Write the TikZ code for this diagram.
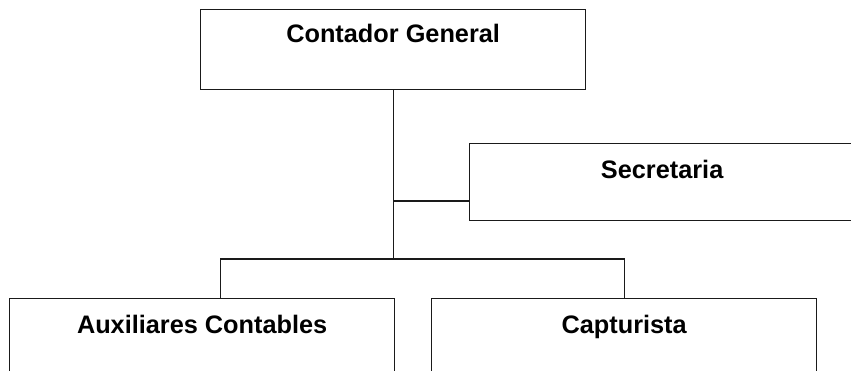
\documentclass[tikz,border=0pt]{standalone}
\usepackage{fontspec}
\setmainfont{Liberation Sans}
\usepackage{xcolor}
\definecolor{linea}{HTML}{1a1a1a}

\begin{document}
\begin{tikzpicture}[
            x=1pt,
            y=-1pt,
            line cap=rect,
            caja/.style={
                draw=linea,
                line width=1.3pt,
                inner sep=0pt,
                minimum width=385,
                anchor=north west,
                font=\bfseries\fontsize{25.3}{30}\selectfont
            },
            enlace/.style={draw=linea, line width=1.2pt}
        ]
            % Page frame
            \clip (0,0) rectangle (851,371);

            % Draw the boxes
            \node[caja, text height=33, text depth=47] (contador) at (200,9) {Contador General};
            \node[caja, text height=35, text depth=42] (secretaria) at (469,143) {Secretaria};
            \node[caja, text height=35, text depth=45] (auxiliares) at (9,298) {Auxiliares Contables};
            \node[caja, text height=35, text depth=45] (capturista) at (431,298) {Capturista};

            % Branch points on the main line
            \coordinate (staff) at (contador.south |- 0,201);
            \coordinate (bus) at (contador.south |- 0,259);

            % Draw the connectors
            \draw[enlace] (contador.south) -- (bus);
            \draw[enlace] (staff) -- (staff -| secretaria.west);
            \draw[enlace] ([xshift=18pt]auxiliares.north) |- (bus) -| (capturista.north);
        \end{tikzpicture}
\end{document}
